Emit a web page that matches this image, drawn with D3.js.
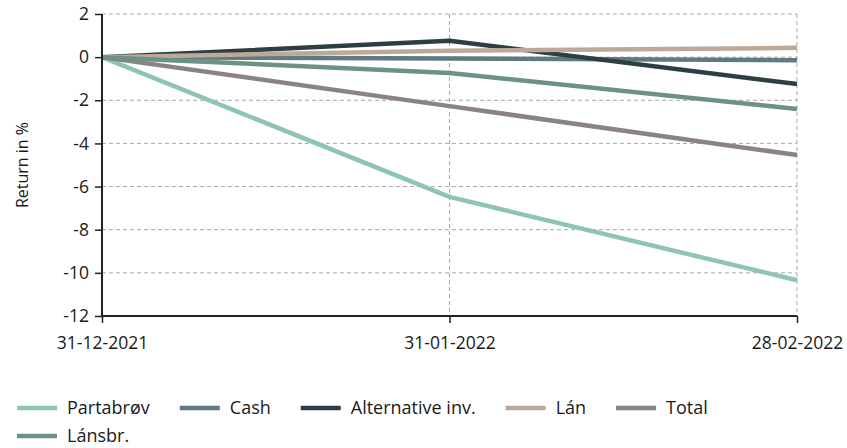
<!DOCTYPE html>
<html>
<head>
<meta charset="utf-8">
<script src="https://cdn.jsdelivr.net/npm/d3@7"></script>
<style>
  html, body { margin: 0; padding: 0; background: #fff; }
  svg { display: block; }
  text { font-family: "Open Sans", "Noto Sans", sans-serif; }
</style>
</head>
<body>
<div id="chart"></div>
<script>
// ---- data ----
const dates = ["31-12-2021", "31-01-2022", "28-02-2022"];
const seriesNames = ["Partabrøv", "Cash", "Alternative inv.", "Lán", "Total", "Lánsbr."];
const seriesColors = ["#8ec4b2", "#5f7b80", "#2e3f44", "#bda999", "#8b8381", "#6b9283"];
const partabrov = [0, -6.48, -10.34];
const cash = [0, -0.06, -0.14];
const alternative = [0, 0.76, -1.25];
const lan = [0, 0.3, 0.43];
const total = [0, -2.27, -4.54];
const lansbr = [0, -0.73, -2.4];
const yTicks = [2, 0, -2, -4, -6, -8, -10, -12];
const yLabel = "Return in %";

const seriesValues = [partabrov, cash, alternative, lan, total, lansbr];

// ---- layout ----
const W = 847, H = 448;
const margin = { left: 102, right: 50, top: 14, bottom: 132 };
const svg = d3.select("#chart").append("svg").attr("width", W).attr("height", H);

const x = d3.scalePoint().domain(dates).range([margin.left, W - margin.right]);
const y = d3.scaleLinear().domain([-12, 2]).range([H - margin.bottom, margin.top]);

// grid
const grid = svg.append("g");
grid.selectAll("line.h").data(yTicks.filter(t => t !== -12)).join("line")
  .attr("x1", margin.left).attr("x2", W - margin.right)
  .attr("y1", d => y(d)).attr("y2", d => y(d))
  .attr("stroke", "#a8a8a8").attr("stroke-width", 1).attr("stroke-dasharray", "4,3");
grid.selectAll("line.v").data(dates.slice(1)).join("line")
  .attr("x1", d => x(d)).attr("x2", d => x(d))
  .attr("y1", y(2)).attr("y2", y(-12))
  .attr("stroke", "#a8a8a8").attr("stroke-width", 1).attr("stroke-dasharray", "4,3");

// lines
const line = d3.line().x((d, i) => x(dates[i])).y(d => y(d));
svg.append("g").selectAll("path").data(seriesValues).join("path")
  .attr("d", d => line(d))
  .attr("fill", "none")
  .attr("stroke", (d, i) => seriesColors[i])
  .attr("stroke-width", 4.5)
  .attr("stroke-linejoin", "round")
  .attr("stroke-linecap", "butt");

// axes
const yAxis = svg.append("g").attr("transform", `translate(${margin.left},0)`)
  .call(d3.axisLeft(y).tickValues(yTicks).tickSize(7).tickPadding(6).tickFormat(d => String(d)));
const xAxis = svg.append("g").attr("transform", `translate(0,${y(-12)})`)
  .call(d3.axisBottom(x).tickSize(7).tickPadding(10));
[yAxis, xAxis].forEach(a => {
  a.select(".domain").attr("stroke", "#222").attr("stroke-width", 2);
  a.selectAll(".tick line").attr("stroke", "#222").attr("stroke-width", 1.5);
  a.selectAll(".tick text").attr("fill", "#1a1a1a").style("font-size", "17.5px")
    .style("font-family", "'Open Sans', sans-serif");
});
xAxis.selectAll(".tick text").attr("dy", "0.9em");
yAxis.select(".domain").attr("d", `M0,${y(2)}V${y(-12)}`);
xAxis.select(".domain").attr("d", `M${margin.left},0H${W - margin.right}`);

// y label
svg.append("text")
  .attr("transform", `translate(28,${(y(2) + y(-12)) / 2}) rotate(-90)`)
  .attr("text-anchor", "middle")
  .attr("fill", "#1a1a1a")
  .style("font-size", "16px")
  .text(yLabel);

// legend
const legend = svg.append("g");
let lx = 17, ly = 408;
const maxX = 800;
seriesNames.forEach((name, i) => {
  const g = legend.append("g");
  const t = g.append("text").attr("x", 50).attr("y", 0).attr("dy", "0.35em")
    .attr("fill", "#1a1a1a").style("font-size", "18px").text(name);
  const tw = t.node().getComputedTextLength();
  const w = 50 + tw;
  if (lx + w > maxX) { lx = 17; ly += 28; }
  g.append("line").attr("x1", 0).attr("x2", 40).attr("y1", 0).attr("y2", 0)
    .attr("stroke", seriesColors[i]).attr("stroke-width", 4.5);
  g.attr("transform", `translate(${lx},${ly})`);
  lx += w + 30;
});
</script>
</body>
</html>
